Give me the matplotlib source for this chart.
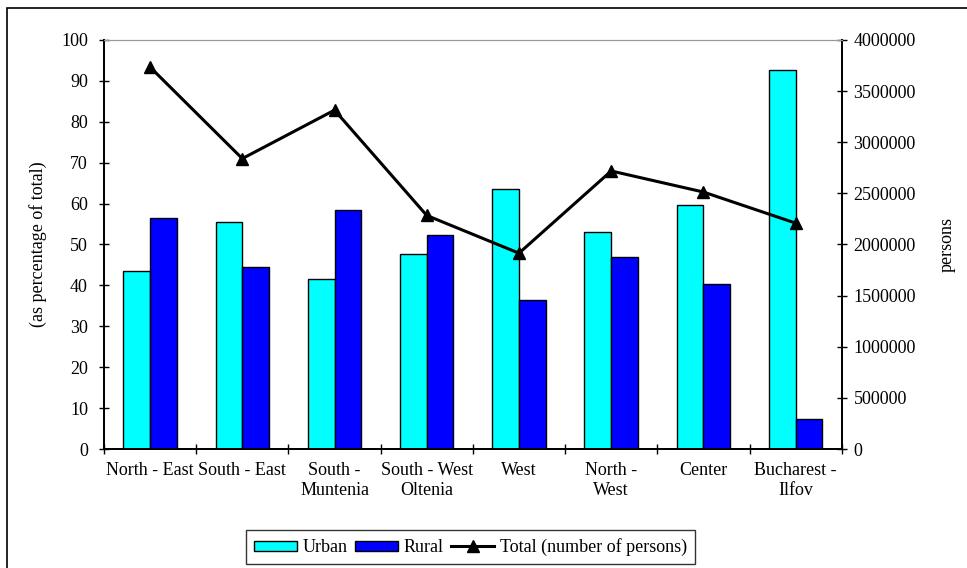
import numpy as np
import matplotlib.pyplot as plt
from matplotlib.patches import Rectangle

plt.rcParams['font.family'] = ['Liberation Serif', 'DejaVu Serif']

regions = ['North - East', 'South - East', 'South -\nMuntenia', 'South - West\nOltenia',
           'West', 'North -\nWest', 'Center', 'Bucharest -\nIlfov']
urban = [43.4, 55.5, 41.5, 47.7, 63.5, 53.1, 59.7, 92.6]
rural = [56.6, 44.5, 58.5, 52.3, 36.5, 46.9, 40.3, 7.4]
total = [3735000, 2840000, 3314000, 2284000, 1915000, 2719000, 2513000, 2209000]

fs = 13

fig = plt.figure(figsize=(9.67, 5.68), dpi=100)
ax = fig.add_axes([0.1075, 0.2095, 0.763, 0.7201])
ax2 = ax.twinx()

x = np.arange(len(regions))
w = 0.29
b1 = ax.bar(x - w / 2, urban, w, color='#00FFFF', edgecolor='black', linewidth=1, label='Urban', zorder=2)
b2 = ax.bar(x + w / 2, rural, w, color='#0000FF', edgecolor='black', linewidth=1, label='Rural', zorder=2)
ln, = ax2.plot(x, total, color='black', linewidth=2.2, marker='^', markersize=9,
               label='Total (number of persons)')

ax.set_xlim(-0.5, len(regions) - 0.5)
ax.set_ylim(0, 100)
ax.set_yticks(np.arange(0, 101, 10))
ax2.set_ylim(0, 4000000)
ax2.set_yticks(np.arange(0, 4000001, 500000))
ax2.set_yticklabels([str(v) for v in range(0, 4000001, 500000)])

ax.set_xticks(x)
ax.set_xticklabels(regions, fontsize=fs, linespacing=1.3, va='top')
ax.set_xticks(np.arange(-0.5, len(regions) + 0.5, 1), minor=True)
ax.tick_params(axis='x', which='major', length=0, pad=9)
ax.tick_params(axis='x', which='minor', direction='inout', length=7, width=1)
ax.tick_params(axis='y', direction='inout', length=7, width=1, labelsize=fs, pad=8)
ax2.tick_params(axis='y', direction='inout', length=7, width=1, labelsize=fs, pad=5)

for a in (ax, ax2):
    a.spines['top'].set_color('#999999')
    a.spines['left'].set_linewidth(1.3)
    a.spines['right'].set_linewidth(1.3)
    a.spines['bottom'].set_linewidth(1.3)

ax.set_ylabel('(as percentage of total)', fontsize=fs, labelpad=10)
ax2.set_ylabel('persons', fontsize=fs, rotation=90, labelpad=16)

leg = fig.legend([b1, b2, ln], ['Urban', 'Rural', 'Total (number of persons)'],
                 loc='center', bbox_to_anchor=(0.4865, 0.0365), ncol=3, fontsize=fs,
                 frameon=True, fancybox=False, edgecolor='black', handlelength=2.4,
                 handleheight=0.5, handletextpad=0.3, columnspacing=0.4, borderpad=0.45)
leg.get_frame().set_linewidth(1)

# outer frame around the chart area
fig.patches.append(Rectangle((7 / 967, -0.1), 1.2, 1 - 8 / 568 + 0.1, transform=fig.transFigure,
                             fill=False, edgecolor='black', linewidth=1.2))

fig.savefig('out.png', dpi=100)
